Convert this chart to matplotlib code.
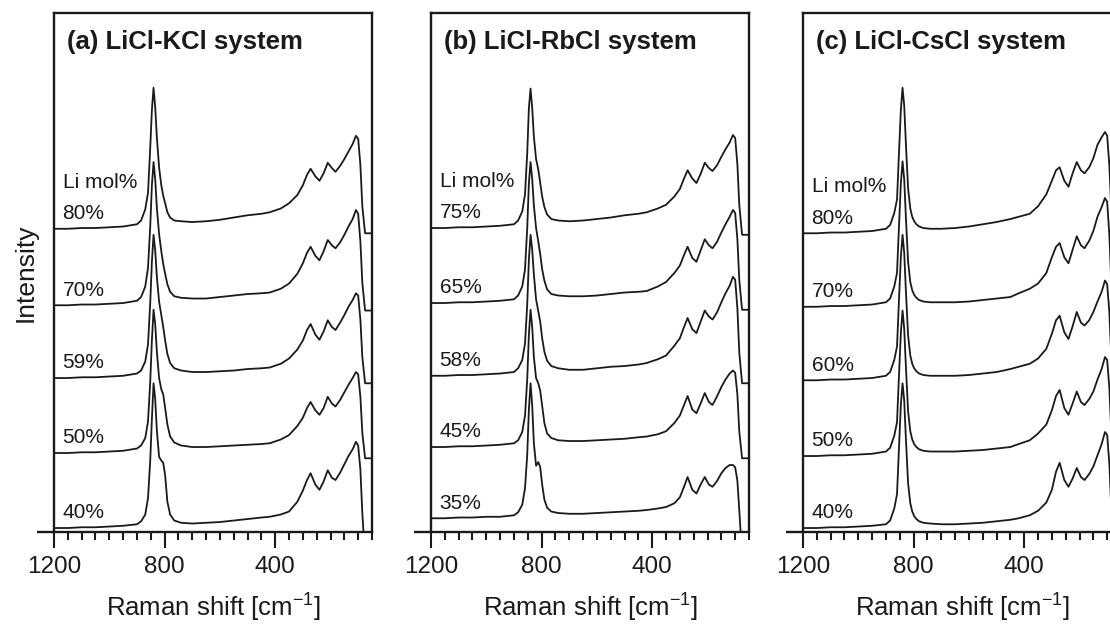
import matplotlib
matplotlib.use("Agg")
import matplotlib.pyplot as plt
from matplotlib.ticker import MultipleLocator

plt.rcParams['font.family'] = ['Liberation Sans', 'DejaVu Sans']

# ------------------------------
# data: Raman shift grid [cm-1] shared by every spectrum
# ------------------------------
shift = [1200, 1150, 1100, 1050, 1000, 950, 900,
         885, 870, 860, 852, 846, 840, 834, 828, 820, 812, 805, 798, 790, 780, 765, 740,
         700, 650, 600, 550, 500, 450, 420,
         380, 350, 320, 300, 285, 272, 255, 240, 225, 210, 195, 182, 165, 150, 135,
         120, 108, 100, 92, 85, 75, 60, 50]

# (a) LiCl-KCl, top to bottom
kcl_labels = ['80%', '70%', '59%', '50%', '40%']
kcl_offsets = [3.99, 2.97, 2.0, 1.0, 0.0]
kcl_80 = [0.00, 0.00, 0.01, 0.01, 0.02, 0.03, 0.06,
          0.11, 0.26, 0.48, 1.08, 1.58, 1.88, 1.62, 1.22, 0.82, 0.58, 0.44, 0.34, 0.22, 0.15, 0.11, 0.10,
          0.09, 0.10, 0.12, 0.15, 0.18, 0.20, 0.22,
          0.27, 0.34, 0.45, 0.58, 0.72, 0.80, 0.70, 0.64, 0.74, 0.88, 0.81, 0.76, 0.84, 0.93, 1.03,
          1.13, 1.24, 1.20, 0.85, 0.30, -0.06, -0.06, -0.06]
kcl_70 = [0.00, 0.00, 0.01, 0.01, 0.02, 0.03, 0.06,
          0.11, 0.25, 0.50, 1.05, 1.60, 1.91, 1.68, 1.30, 0.95, 0.72, 0.55, 0.42, 0.28, 0.18, 0.12, 0.10,
          0.09, 0.09, 0.11, 0.13, 0.15, 0.16, 0.17,
          0.22, 0.29, 0.42, 0.56, 0.70, 0.78, 0.66, 0.60, 0.72, 0.87, 0.80, 0.76, 0.84, 0.94, 1.05,
          1.15, 1.27, 1.22, 0.85, 0.30, -0.07, -0.07, -0.07]
kcl_59 = [0.00, 0.00, 0.01, 0.01, 0.02, 0.03, 0.06,
          0.10, 0.22, 0.45, 1.00, 1.55, 1.91, 1.70, 1.35, 1.02, 0.84, 0.68, 0.50, 0.32, 0.20, 0.13, 0.10,
          0.08, 0.08, 0.09, 0.10, 0.12, 0.13, 0.14,
          0.19, 0.26, 0.38, 0.50, 0.64, 0.72, 0.58, 0.51, 0.62, 0.77, 0.68, 0.64, 0.74, 0.84, 0.95,
          1.04, 1.13, 1.10, 0.78, 0.28, -0.07, -0.07, -0.07]
kcl_50 = [0.00, 0.00, 0.01, 0.01, 0.02, 0.03, 0.06,
          0.10, 0.20, 0.42, 0.95, 1.50, 1.91, 1.72, 1.35, 1.00, 0.85, 0.78, 0.60, 0.38, 0.22, 0.14, 0.10,
          0.08, 0.08, 0.09, 0.10, 0.11, 0.12, 0.13,
          0.18, 0.24, 0.36, 0.47, 0.60, 0.68, 0.57, 0.51, 0.60, 0.75, 0.66, 0.62, 0.71, 0.81, 0.91,
          1.00, 1.08, 1.05, 0.75, 0.27, -0.07, -0.07, -0.07]
kcl_40 = [0.00, 0.00, 0.01, 0.01, 0.02, 0.03, 0.05,
          0.09, 0.18, 0.40, 0.90, 1.45, 1.93, 1.72, 1.30, 0.95, 0.90, 0.87, 0.70, 0.35, 0.18, 0.10, 0.07,
          0.06, 0.07, 0.08, 0.10, 0.12, 0.14, 0.15,
          0.18, 0.22, 0.35, 0.50, 0.64, 0.73, 0.58, 0.51, 0.62, 0.77, 0.67, 0.64, 0.74, 0.85, 0.96,
          1.05, 1.15, 1.10, 0.78, 0.20, -0.40, -0.40, -0.40]

# (b) LiCl-RbCl
rbcl_labels = ['75%', '65%', '58%', '45%', '35%']
rbcl_offsets = [4.0, 3.0, 2.03, 1.08, 0.13]
rbcl_75 = [0.00, 0.00, 0.01, 0.01, 0.02, 0.03, 0.05,
           0.10, 0.22, 0.45, 1.00, 1.60, 1.86, 1.60, 1.22, 0.92, 0.78, 0.60, 0.42, 0.28, 0.18, 0.12, 0.10,
           0.09, 0.10, 0.12, 0.14, 0.17, 0.19, 0.21,
           0.26, 0.31, 0.42, 0.52, 0.66, 0.77, 0.66, 0.60, 0.72, 0.87, 0.80, 0.76, 0.84, 0.95, 1.05,
           1.14, 1.24, 1.20, 0.85, 0.30, -0.09, -0.09, -0.09]
rbcl_65 = [0.00, 0.00, 0.01, 0.01, 0.02, 0.03, 0.05,
           0.10, 0.22, 0.45, 1.00, 1.60, 1.88, 1.65, 1.30, 1.00, 0.82, 0.65, 0.45, 0.30, 0.18, 0.12, 0.10,
           0.09, 0.09, 0.10, 0.12, 0.14, 0.15, 0.16,
           0.22, 0.28, 0.40, 0.50, 0.64, 0.75, 0.60, 0.55, 0.70, 0.85, 0.77, 0.73, 0.82, 0.94, 1.05,
           1.15, 1.24, 1.20, 0.85, 0.30, -0.09, -0.09, -0.09]
rbcl_58 = [0.00, 0.00, 0.01, 0.01, 0.02, 0.03, 0.05,
           0.10, 0.21, 0.43, 0.95, 1.55, 1.88, 1.68, 1.35, 1.02, 0.86, 0.72, 0.50, 0.32, 0.20, 0.13, 0.10,
           0.08, 0.08, 0.10, 0.12, 0.13, 0.15, 0.17,
           0.22, 0.27, 0.40, 0.50, 0.65, 0.77, 0.62, 0.57, 0.72, 0.87, 0.79, 0.75, 0.85, 0.98, 1.10,
           1.20, 1.32, 1.28, 0.90, 0.30, -0.10, -0.10, -0.10]
rbcl_45 = [0.00, 0.00, 0.01, 0.01, 0.02, 0.03, 0.05,
           0.09, 0.20, 0.42, 0.90, 1.50, 1.83, 1.60, 1.20, 0.92, 0.85, 0.75, 0.55, 0.32, 0.18, 0.12, 0.09,
           0.08, 0.08, 0.09, 0.10, 0.11, 0.13, 0.14,
           0.17, 0.21, 0.32, 0.42, 0.56, 0.68, 0.50, 0.45, 0.58, 0.72, 0.60, 0.56, 0.68, 0.80, 0.90,
           0.98, 1.02, 0.99, 0.70, 0.20, -0.15, -0.15, -0.15]
rbcl_35 = [0.00, 0.00, 0.01, 0.01, 0.02, 0.02, 0.04,
           0.08, 0.18, 0.40, 0.85, 1.45, 1.80, 1.50, 1.00, 0.70, 0.75, 0.68, 0.45, 0.25, 0.14, 0.09, 0.07,
           0.06, 0.06, 0.07, 0.08, 0.09, 0.10, 0.11,
           0.13, 0.15, 0.20, 0.28, 0.42, 0.55, 0.38, 0.33, 0.45, 0.55, 0.45, 0.42, 0.50, 0.60, 0.67,
           0.71, 0.71, 0.68, 0.50, 0.10, -0.50, -0.50, -0.50]

# (c) LiCl-CsCl
cscl_labels = ['80%', '70%', '60%', '50%', '40%']
cscl_offsets = [3.93, 2.95, 1.97, 0.96, 0.0]
cscl_80 = [0.00, 0.00, 0.01, 0.01, 0.02, 0.03, 0.06,
           0.11, 0.27, 0.45, 1.15, 1.65, 1.94, 1.70, 1.20, 0.60, 0.33, 0.22, 0.16, 0.12, 0.09, 0.07, 0.06,
           0.06, 0.07, 0.09, 0.12, 0.15, 0.19, 0.22,
           0.26, 0.36, 0.52, 0.70, 0.84, 0.88, 0.70, 0.62, 0.80, 0.95, 0.84, 0.80, 0.88, 1.00, 1.18,
           1.28, 1.35, 1.30, 0.90, 0.30, -0.07, -0.07, -0.07]
cscl_70 = [0.00, 0.00, 0.01, 0.01, 0.02, 0.03, 0.06,
           0.11, 0.27, 0.45, 1.15, 1.65, 1.94, 1.70, 1.20, 0.60, 0.33, 0.22, 0.16, 0.12, 0.09, 0.07, 0.06,
           0.06, 0.06, 0.07, 0.09, 0.11, 0.13, 0.18,
           0.24, 0.31, 0.45, 0.66, 0.80, 0.85, 0.66, 0.58, 0.76, 0.94, 0.82, 0.78, 0.88, 1.01, 1.20,
           1.33, 1.45, 1.40, 0.95, 0.30, -0.07, -0.07, -0.07]
cscl_60 = [0.00, 0.00, 0.01, 0.01, 0.02, 0.03, 0.06,
           0.11, 0.27, 0.45, 1.15, 1.65, 1.94, 1.70, 1.20, 0.60, 0.33, 0.22, 0.16, 0.12, 0.09, 0.07, 0.06,
           0.06, 0.06, 0.07, 0.09, 0.11, 0.15, 0.18,
           0.22, 0.29, 0.42, 0.62, 0.80, 0.86, 0.64, 0.55, 0.72, 0.91, 0.77, 0.73, 0.80, 0.91, 1.05,
           1.18, 1.33, 1.28, 0.90, 0.30, -0.07, -0.07, -0.07]
cscl_50 = [0.00, 0.00, 0.01, 0.01, 0.02, 0.03, 0.06,
           0.11, 0.27, 0.45, 1.15, 1.65, 1.94, 1.70, 1.20, 0.60, 0.33, 0.22, 0.16, 0.12, 0.09, 0.07, 0.06,
           0.06, 0.06, 0.07, 0.08, 0.10, 0.12, 0.16,
           0.21, 0.30, 0.42, 0.61, 0.80, 0.88, 0.64, 0.55, 0.70, 0.86, 0.72, 0.68, 0.76, 0.86, 1.02,
           1.16, 1.32, 1.28, 0.90, 0.30, -0.07, -0.07, -0.07]
cscl_40 = [0.00, 0.00, 0.01, 0.01, 0.02, 0.03, 0.05,
           0.10, 0.26, 0.45, 1.15, 1.65, 1.93, 1.70, 1.20, 0.60, 0.33, 0.22, 0.16, 0.12, 0.09, 0.07, 0.06,
           0.05, 0.05, 0.06, 0.07, 0.09, 0.11, 0.13,
           0.17, 0.23, 0.34, 0.51, 0.75, 0.87, 0.64, 0.55, 0.66, 0.80, 0.68, 0.64, 0.72, 0.82, 0.97,
           1.12, 1.28, 1.24, 0.85, 0.25, -0.30, -0.30, -0.30]

titles = ['(a) LiCl-KCl system', '(b) LiCl-RbCl system', '(c) LiCl-CsCl system']
panels = [
    (kcl_labels, kcl_offsets, [kcl_80, kcl_70, kcl_59, kcl_50, kcl_40]),
    (rbcl_labels, rbcl_offsets, [rbcl_75, rbcl_65, rbcl_58, rbcl_45, rbcl_35]),
    (cscl_labels, cscl_offsets, [cscl_80, cscl_70, cscl_60, cscl_50, cscl_40]),
]

# ------------------------------
# figure
# ------------------------------
fig = plt.figure(figsize=(11.1, 6.24), dpi=100)
lefts = [54, 431, 803]
ink = '#1a1a1a'

for k, (title, (labels, offsets, spectra)) in enumerate(zip(titles, panels)):
    ax = fig.add_axes([lefts[k] / 1110, 1 - 532 / 624, 318 / 1110, 519 / 624])
    for lab, off, spec in zip(labels, offsets, spectra):
        assert len(spec) == len(shift)
        ax.plot(shift, [v + off for v in spec], color=ink, lw=1.3)
        ax.text(0.027, off + 0.13, lab, transform=ax.get_yaxis_transform(),
                fontsize=15, color=ink, va='baseline', ha='left')
    ax.text(0.027, offsets[0] + 0.55, 'Li mol%', transform=ax.get_yaxis_transform(),
            fontsize=15, color=ink, va='baseline', ha='left')
    ax.text(0.042, 0.944, title, transform=ax.transAxes, fontsize=18.5,
            fontweight='bold', color=ink, va='center', ha='left')

    ax.set_xlim(1200, 50)
    ax.set_ylim(-0.053, 6.867)
    ax.xaxis.set_major_locator(MultipleLocator(400))
    ax.xaxis.set_minor_locator(MultipleLocator(50))
    ax.set_yticks([])
    ax.tick_params(axis='x', which='major', direction='out', length=11.5, width=1.5,
                   labelsize=17.5, pad=6, colors=ink)
    ax.tick_params(axis='x', which='minor', direction='out', length=5.5, width=1.5, colors=ink)
    for sp in ax.spines.values():
        sp.set_linewidth(1.7)
        sp.set_color(ink)
    # bottom axis line runs a little past the left spine
    ax.plot([-0.053, 0], [0, 0], transform=ax.transAxes, color=ink, lw=1.7,
            clip_on=False, solid_capstyle='butt')

    ax.set_xlabel('Raman shift [cm$^{\\mathregular{-1}}$]', fontsize=18.5, color=ink)
    ax.xaxis.set_label_coords(0.5, -0.112)
    if k == 0:
        ax.set_ylabel('Intensity', fontsize=19, color=ink)
        ax.yaxis.set_label_coords(-0.052, 0.5)

fig.savefig('out.png', dpi=100)
